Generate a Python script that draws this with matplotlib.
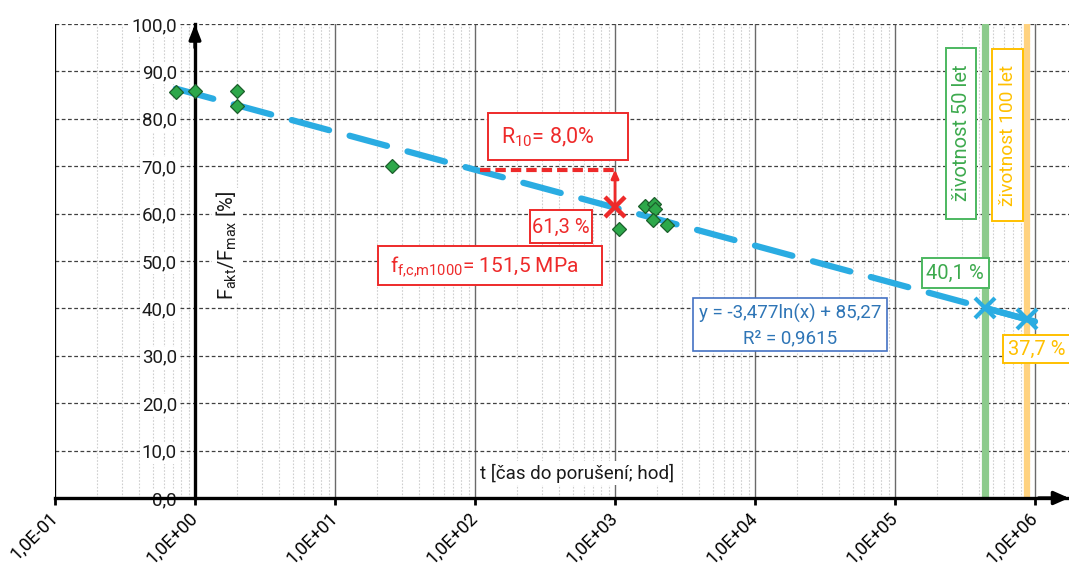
import numpy as np
import matplotlib
matplotlib.use("Agg")
import matplotlib.pyplot as plt
from matplotlib.patches import Rectangle
from matplotlib.ticker import FixedLocator, FuncFormatter, NullFormatter

plt.rcParams['font.family'] = ['Roboto', 'DejaVu Sans']
plt.rcParams['mathtext.default'] = 'regular'

# ---------------- data ----------------
t_hours = [0.73, 1.0, 2.0, 2.0, 25.4, 1060, 1640, 1900, 1930, 1880, 2360]
f_ratio = [85.7, 85.8, 85.9, 82.7, 70.0, 56.8, 61.7, 62.0, 61.0, 58.7, 57.5]

trend_slope = -3.477
trend_intercept = 85.27
trend_t_start = 0.73
trend_t_end = 1.0e6

life_hours = [438000, 876000]          # 50 let, 100 let
life_values = [40.1, 37.7]
life_labels = ["životnost 50 let", "životnost 100 let"]

design_t = 1000
design_value = 61.3
r10 = 8.0
r10_line_start = 108

y_ticks = [0, 10, 20, 30, 40, 50, 60, 70, 80, 90, 100]
x_decades = [-1, 0, 1, 2, 3, 4, 5, 6]

# ---------------- colours ----------------
C_TREND = '#2AACE2'
C_PT = '#2DA84A'
C_PT_EDGE = '#1B5E2B'
C_RED = '#EE2A2A'
C_BLUE = '#2E75B6'
C_GREEN = '#3DAA4E'
C_GREEN_BAND = '#8CCB8C'
C_YEL = '#FFC000'
C_YEL_BAND = '#FFD27F'

W, H = 1069, 566
fig = plt.figure(figsize=(W / 100, H / 100), dpi=100)
ax_l, ax_r, ax_t, ax_b = 55, 1069, 24, 498
ax = fig.add_axes([ax_l / W, 1 - ax_b / H, (ax_r - ax_l) / W, (ax_b - ax_t) / H])
ax.set_xscale('log')
ax.set_xlim(0.1, 10 ** (6 + 34 / 140))
ax.set_ylim(0, 100)

# grid
ax.xaxis.set_major_locator(FixedLocator([10.0 ** d for d in x_decades]))
minors = [m * 10.0 ** d for d in x_decades for m in range(2, 10)]
ax.xaxis.set_minor_locator(FixedLocator(minors))
ax.xaxis.set_minor_formatter(NullFormatter())
ax.set_yticks(y_ticks)
ax.grid(True, which='minor', axis='x', color='#CFCFCF', lw=0.8, ls=(0, (1.5, 1.5)), zorder=0)
ax.grid(True, which='major', axis='x', color='#6A6A6A', lw=1.0, ls='-', zorder=0)
ax.grid(True, which='major', axis='y', color='#404040', lw=0.9, ls=(0, (3, 2)), zorder=0)
ax.set_axisbelow(True)

# spines
for s in ['top', 'right']:
    ax.spines[s].set_visible(False)
ax.spines['left'].set_position(('data', 1))
ax.spines['left'].set_linewidth(2.4)
ax.spines['bottom'].set_linewidth(2.4)
ax.axvline(0.1, color='black', lw=1.5, zorder=1)

ax.tick_params(axis='y', which='both', length=0, pad=13, labelsize=13.5, colors='#1A1A1A')
ax.tick_params(axis='x', which='major', direction='out', length=5, width=2, pad=7, labelsize=13)
ax.tick_params(axis='x', which='minor', length=0)
ax.yaxis.set_major_formatter(FuncFormatter(lambda v, p: f"{v:.1f}".replace('.', ',')))
ax.xaxis.set_major_formatter(FuncFormatter(lambda v, p: f"1,0E{int(round(np.log10(v))):+03d}"))
for lab in ax.get_xticklabels():
    lab.set_rotation(45)
    lab.set_ha('right')
    lab.set_va('center')
    lab.set_rotation_mode('anchor')
for lab in ax.get_yticklabels():
    lab.set_bbox(dict(fc='white', ec='none', pad=1.5))

# axis arrows
ax.annotate('', xy=(1, 100), xycoords='data', xytext=(1, 95),
            arrowprops=dict(arrowstyle='-|>,head_length=0.9,head_width=0.35', color='black', lw=2.4,
                            shrinkA=0, shrinkB=0), annotation_clip=False, zorder=6)
ax.annotate('', xy=(1.0, 0), xycoords='axes fraction', xytext=(0.97, 0),
            arrowprops=dict(arrowstyle='-|>,head_length=0.9,head_width=0.4', color='black', lw=2.4,
                            shrinkA=0, shrinkB=0), annotation_clip=False, zorder=6)

# lifetime bands
ax.axvline(life_hours[0], color=C_GREEN_BAND, lw=5.2, zorder=2)
ax.axvline(life_hours[1], color=C_YEL_BAND, lw=4.5, zorder=2)

# trendline
tt = np.logspace(np.log10(trend_t_start), np.log10(trend_t_end), 400)
ax.plot(tt, trend_slope * np.log(tt) + trend_intercept, color=C_TREND, lw=4.5,
        dashes=(6.2, 3.4), dash_capstyle='round', zorder=3)
tl = np.logspace(np.log10(life_hours[0]), np.log10(trend_t_end), 50)
ax.plot(tl, trend_slope * np.log(tl) + trend_intercept, color=C_TREND, lw=4.5,
        solid_capstyle='round', zorder=3)
ax.plot(life_hours, life_values, ls='none', marker='x', ms=15, mew=3, color=C_TREND, zorder=4)

# data points
ax.plot(t_hours, f_ratio, ls='none', marker='D', ms=7.2, mfc=C_PT, mec=C_PT_EDGE, mew=0.9, zorder=5)

# design point annotations
ax.plot([r10_line_start, design_t], [design_value + r10] * 2, color=C_RED, lw=3,
        dashes=(2.5, 1.2), zorder=4)
ax.annotate('', xy=(design_t, design_value + r10), xytext=(design_t, design_value),
            arrowprops=dict(arrowstyle='-|>,head_length=0.5,head_width=0.22', color=C_RED, lw=2,
                            shrinkA=0, shrinkB=0), zorder=4)
ax.plot([design_t], [design_value], ls='none', marker='x', ms=15, mew=3.2, color=C_RED, zorder=4)


def fx(px):
    return (px - ax_l) / (ax_r - ax_l)


def fy(py):
    return (ax_b - py) / (ax_b - ax_t)


def box(x0, x1, y0, y1, ec, lw=1.4):
    ax.add_patch(Rectangle((fx(x0), fy(y1)), fx(x1) - fx(x0), fy(y0) - fy(y1),
                           transform=ax.transAxes, fc='white', ec=ec, lw=lw, zorder=7, clip_on=False))


def label(px, py, s, color, size, rot=0, ha='center'):
    ax.text(fx(px), fy(py), s, transform=ax.transAxes, color=color, fontsize=size,
            ha=ha, va='center', rotation=rot, zorder=8)


box(488, 628, 113, 160, C_RED)
label(548, 137, "R$_{10}$= " + f"{r10:.1f}".replace('.', ',') + "%", C_RED, 15.5)
box(530, 592, 210, 243, C_RED)
label(561, 227, f"{design_value:.1f}".replace('.', ',') + " %", C_RED, 14.5)
box(378, 602, 246, 285, C_RED)
label(484, 266, "f$_{f{,}c{,}m1000}$= 151,5 MPa", C_RED, 15)

box(693, 887, 298, 351, '#4472C4', 1.2)
label(790, 313, "y = " + f"{trend_slope:.3f}".replace('.', ',') + "ln(x) + "
      + f"{trend_intercept:.2f}".replace('.', ','), C_BLUE, 13.5)
label(790, 338, "R² = 0,9615", C_BLUE, 13.5)

box(922, 989, 258, 288, '#4CB860')
label(955, 273, f"{life_values[0]:.1f}".replace('.', ',') + " %", C_GREEN, 14.5)
box(1003, 1080, 335, 363, C_YEL)
label(1037, 349, f"{life_values[1]:.1f}".replace('.', ',') + " %", C_YEL, 14.5)

box(946, 976, 48, 219, '#4CB860')
label(961.5, 133, life_labels[0], C_GREEN, 14.5, rot=90)
box(992, 1023, 49, 221, C_YEL)
label(1008, 135, life_labels[1], C_YEL, 13.8, rot=90)

# axis titles
ax.text(fx(577), fy(473), "t [čas do porušení; hod]", transform=ax.transAxes, fontsize=13.5,
        ha='center', va='center', color='#1A1A1A', zorder=8,
        bbox=dict(fc='white', ec='none', pad=2))
ax.text(fx(227), fy(245), "F$_{akt}$/F$_{max}$ [%]", transform=ax.transAxes, fontsize=14.5,
        ha='center', va='center', rotation=90, color='#1A1A1A', zorder=8,
        bbox=dict(fc='white', ec='none', pad=2))

fig.savefig('out.png', dpi=100)
